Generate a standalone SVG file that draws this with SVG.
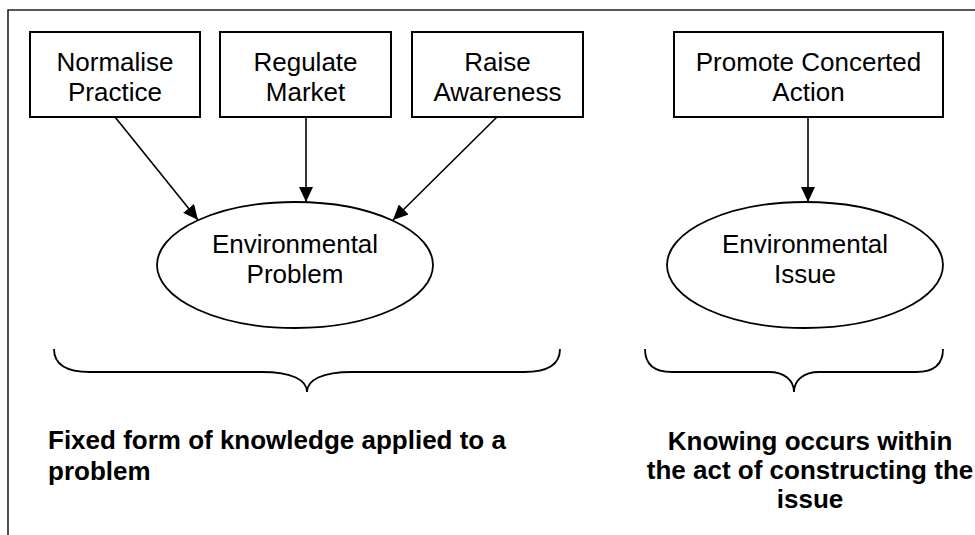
<svg xmlns="http://www.w3.org/2000/svg" width="975" height="535" viewBox="0 0 975 535">
<style>
.box{fill:#fff;stroke:#000;stroke-width:2}
.ell{fill:#fff;stroke:#000;stroke-width:1.8}
.t{font-family:"Liberation Sans",Arial,sans-serif;font-size:26px;fill:#000;text-anchor:middle}
.b{font-family:"Liberation Sans",Arial,sans-serif;font-size:26px;font-weight:bold;fill:#000}
.c{stroke:#000;stroke-width:1.6;fill:none}
.br{stroke:#000;stroke-width:1.8;fill:none}
</style>
<defs>
<marker id="ah" markerUnits="userSpaceOnUse" markerWidth="16" markerHeight="14" refX="15" refY="7" orient="auto">
<path d="M0,0 L15,7 L0,14 Z" fill="#000"/>
</marker>
</defs>
<rect width="975" height="535" fill="#fff"/>
<g id="frame">
<path d="M8,535 L8,10 L975,10" fill="none" stroke="#222" stroke-width="1.6"/>
</g>
<g id="n-normalise">
<rect class="box" x="30" y="32" width="170" height="85"/>
<text class="t" x="115" y="71">Normalise</text>
<text class="t" x="115" y="101">Practice</text>
</g>
<g id="n-regulate">
<rect class="box" x="220" y="32" width="171" height="85"/>
<text class="t" x="305.5" y="71">Regulate</text>
<text class="t" x="305.5" y="101">Market</text>
</g>
<g id="n-raise">
<rect class="box" x="412" y="32" width="171" height="85"/>
<text class="t" x="497.5" y="71">Raise</text>
<text class="t" x="497.5" y="101">Awareness</text>
</g>
<g id="n-promote">
<rect class="box" x="674" y="32" width="269" height="85"/>
<text class="t" x="808.5" y="71">Promote Concerted</text>
<text class="t" x="808.5" y="101">Action</text>
</g>
<g id="n-problem">
<ellipse class="ell" cx="295" cy="265" rx="138" ry="63"/>
<text class="t" x="295" y="253">Environmental</text>
<text class="t" x="295" y="283">Problem</text>
</g>
<g id="n-issue">
<ellipse class="ell" cx="805" cy="265" rx="138" ry="63"/>
<text class="t" x="805" y="253">Environmental</text>
<text class="t" x="805" y="283">Issue</text>
</g>
<g id="connectors">
<line class="c" x1="115" y1="117" x2="198" y2="220" marker-end="url(#ah)"/>
<line class="c" x1="306" y1="117" x2="306" y2="202" marker-end="url(#ah)"/>
<line class="c" x1="497" y1="117" x2="393" y2="220" marker-end="url(#ah)"/>
<line class="c" x1="808" y1="117" x2="808" y2="202" marker-end="url(#ah)"/>
</g>
<g id="brace-left">
<path class="br" d="M54,349 Q54,372 90,372 L262,372 C292,372 307,380 307,392 C307,380 322,372 352,372 L524,372 Q560,372 560,349"/>
</g>
<g id="brace-right">
<path class="br" d="M645,349 Q645,372 672,372 L769,372 C784,372 794,380 794,392 C794,380 804,372 819,372 L916,372 Q943,372 943,349"/>
</g>
<g id="label-left">
<text class="b" x="48" y="449">Fixed form of knowledge applied to a</text>
<text class="b" x="48" y="480">problem</text>
</g>
<g id="label-right">
<text class="b" x="810" y="450" text-anchor="middle">Knowing occurs within</text>
<text class="b" x="810" y="479" text-anchor="middle">the act of constructing the</text>
<text class="b" x="810" y="508" text-anchor="middle">issue</text>
</g>
</svg>
